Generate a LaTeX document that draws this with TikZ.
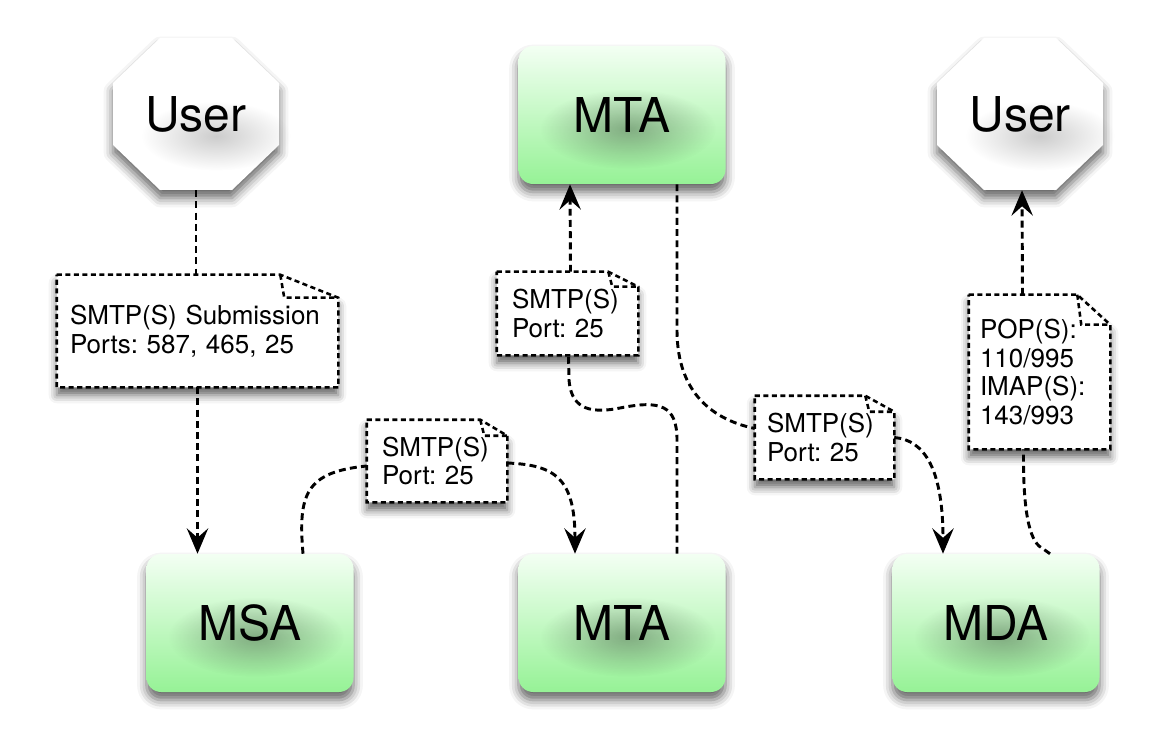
\documentclass[tikz,border=0pt]{standalone}
\usepackage{fontspec}
\setmainfont{TeX Gyre Heros}
\frenchspacing
\usetikzlibrary{calc,arrows.meta,shadows.blur,fadings}
\pgfdeclarelayer{bg}
\pgfsetlayers{bg,main}
\definecolor{greentop}{RGB}{243,255,243}
\definecolor{greenbot}{RGB}{150,242,150}
\tikzfading[name=glowfade, inner color=transparent!0, outer color=transparent!100]
\tikzset{
  bigfont/.style={font=\fontsize{36}{40}\selectfont},
  box/.style={bigfont, rounded corners=11pt, minimum width=155.25pt, minimum height=103.5pt,
    top color=greentop, bottom color=greenbot, draw=none,
    blur shadow={shadow xshift=0pt, shadow yshift=-6pt, shadow blur radius=7pt, shadow opacity=60}},
  oct/.style={bigfont, inner sep=0pt, minimum width=124.5pt, minimum height=114pt},
  octfill/.style={fill=white, draw=none,
    blur shadow={shadow xshift=0pt, shadow yshift=-6pt, shadow blur radius=7pt, shadow opacity=60}},
  note/.style={font=\fontsize{19.5}{21.4}\selectfont, align=left, inner ysep=0pt},
  notebd/.style={draw=black, line width=1.9pt, dash pattern=on 3.8pt off 2.6pt},
  notefill/.style={notebd, fill=white,
    blur shadow={shadow xshift=0pt, shadow yshift=-6pt, shadow blur radius=6pt, shadow opacity=60}},
  conn/.style={draw=black, line width=2.2pt, dash pattern=on 5.2pt off 3.2pt},
  arr/.style={-{Stealth[length=19pt, width=16pt, inset=7pt]}},
  glow/.style={fill=black, opacity=0.3, path fading=glowfade},
  softglow/.style={fill=black, opacity=0.2, path fading=glowfade}
}
\newcommand\notedraw[3]{%
  \begin{pgfonlayer}{bg}
  \path[notefill] (#1.north west) -- ($(#1.north east)+(-#2,0)$) -- ($(#1.north east)+(0,#3)$)
     -- (#1.south east) -- (#1.south west) -- cycle;
  \path[notebd] ($(#1.north east)+(-#2,0)$) -- ($(#1.north east)+(-#2+4,#3)$) -- ($(#1.north east)+(0,#3)$);
  \end{pgfonlayer}}
\newcommand\octat[2]{%
  \path[octfill] (#1,#2) ++(-36,-76) -- ++(72,0) -- ++(47,45) -- ++(0,62) -- ++(-47,45)
    -- ++(-72,0) -- ++(-47,-45) -- ++(0,-62) -- cycle;
  \fill[softglow] (#1+20,#2+22) ellipse (56pt and 26pt);}
\begin{document}
\begin{tikzpicture}[x=0.75pt,y=-0.75pt]
\useasboundingbox (0,0) rectangle (1166,755);

% octagons (User)
\octat{196}{114}
\node[oct] (u1) at (196,114) {User};
\octat{1020}{114}
\node[oct] (u2) at (1020,114) {User};

% green boxes
\node[box] (mtaT) at (622,115) {MTA};
\node[box] (msa) at (250,623) {MSA};
\node[box] (mtaB) at (622,623) {MTA};
\node[box] (mda) at (996,623) {MDA};
\foreach \b in {mtaT,msa,mtaB,mda}{
  \fill[glow] ($(\b.center)+(6,14)$) ellipse (66pt and 30pt);
}

% notes
\node[note, inner xsep=9.75pt, text width=191.25pt, minimum height=84pt] (n1) at (197.5,331)
  {SMTP(S) Submission\\Ports: 587, 465, 25};
\notedraw{n1}{58}{23}
\node[note, inner xsep=11.25pt, text width=82.5pt, minimum height=61.5pt] (n2) at (437,461)
  {SMTP(S)\\Port: 25};
\notedraw{n2}{27}{16}
\node[note, inner xsep=11.25pt, text width=83.25pt, minimum height=62.25pt] (n3) at (567.5,313.5)
  {SMTP(S)\\Port: 25};
\notedraw{n3}{30}{15}
\node[note, inner xsep=9pt, text width=86.25pt, minimum height=62.25pt] (n4) at (824.5,437.5)
  {SMTP(S)\\Port: 25};
\notedraw{n4}{29}{16}
\node[note, inner xsep=8.25pt, text width=89.25pt, minimum height=115.5pt] (n5) at (1039.5,372)
  {POP(S):\\110/995\\IMAP(S):\\143/993};
\notedraw{n5}{33}{30}

% connectors
\draw[conn] (u1.south) -- (u1.south |- n1.north);
\draw[conn,arr] (n1.south) -- (n1.south |- msa.north);

\draw[conn] ($(msa.north)+(53,0)$) .. controls (298,495) and (305,472) .. ($(n2.west)+(0,5)$);
\draw[conn,arr] ($(n2.east)+(0,2)$) .. controls (555,465) and (575,478) .. ($(mtaB.north)+(-47,0)$);

\draw[conn] ($(mtaB.north)+(55,0)$) -- (677,440) .. controls (677,405) and (660,400) .. (620,408)
  .. controls (585,415) and (571,405) .. (569,380) -- ($(n3.south)+(1,0)$);
\draw[conn,arr] ($(n3.north)+(3,0)$) -- ($(mtaT.south)+(-52,0)$);

\draw[conn] ($(mtaT.south)+(55,0)$) -- (677,330) .. controls (677,395) and (715,420) .. ($(n4.west)+(0,-9)$);
\draw[conn,arr] (n4.east) .. controls (925,440) and (943,470) .. ($(mda.north)+(-53,0)$);

\draw[conn] ($(mda.north)+(54,0)$) -- (1039,546) .. controls (1027,535) and (1023,500) .. ($(n5.south)+(-16,0)$);
\draw[conn,arr] ($(n5.north)+(-17,0)$) -- ($(u2.south)+(2,0)$);
\end{tikzpicture}
\end{document}
